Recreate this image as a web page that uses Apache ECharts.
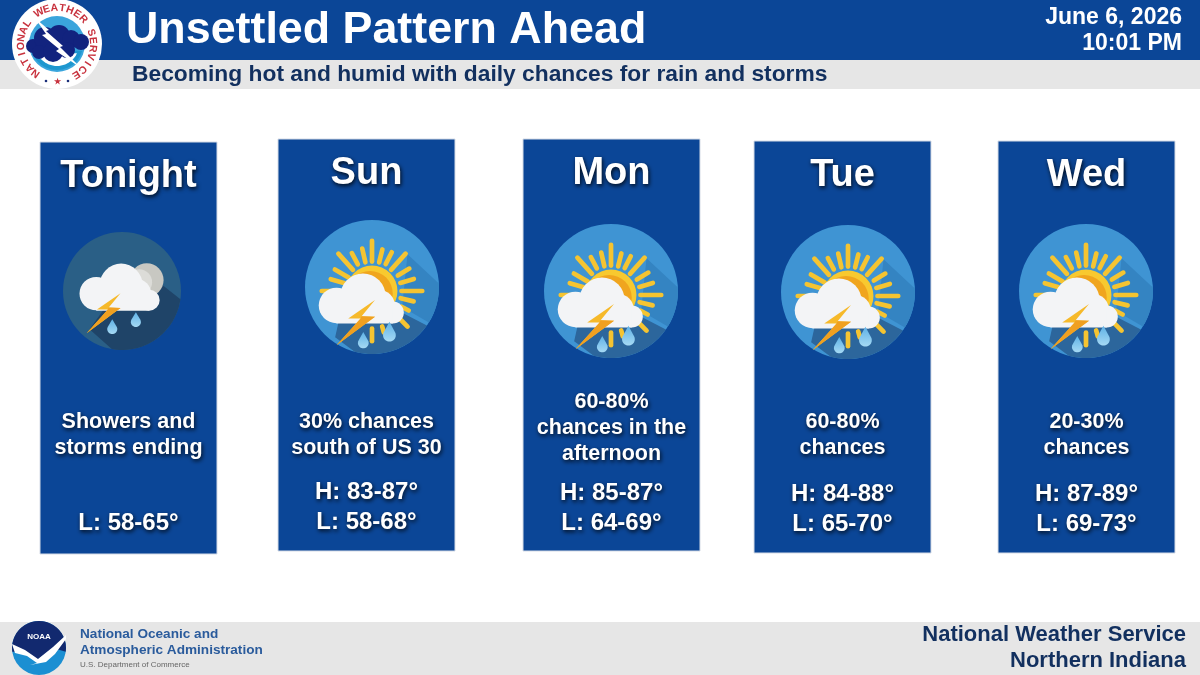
<!DOCTYPE html>
<html>
<head>
<meta charset="utf-8">
<style>html,body{margin:0;padding:0;background:#fff}#main{width:1200px;height:675px}</style>
<script src="https://cdn.jsdelivr.net/npm/echarts@6/dist/echarts.min.js"></script>
</head>
<body>
<div id="main"></div>
<script>
var dayNames = ['Tonight', 'Sun', 'Mon', 'Tue', 'Wed'];
var dayNotes = [
    ['Showers and', 'storms ending'],
    ['30% chances', 'south of US 30'],
    ['60-80%', 'chances in the', 'afternoon'],
    ['60-80%', 'chances'],
    ['20-30%', 'chances']
];
var highs = [null, '83-87°', '85-87°', '84-88°', '87-89°'];
var lows = ['58-65°', '58-68°', '64-69°', '65-70°', '69-73°'];
var iconKinds = ['night', 'day', 'day', 'day', 'day'];

var titleText = 'Unsettled Pattern Ahead';
var subtitleText = 'Becoming hot and humid with daily chances for rain and storms';
var dateLines = ['June 6, 2026', '10:01 PM'];
var agencyLines = ['National Oceanic and', 'Atmospheric Administration'];
var agencySub = 'U.S. Department of Commerce';
var officeLines = ['National Weather Service', 'Northern Indiana'];
var sealText = 'NATIONAL WEATHER SERVICE';

// layout of each panel: left edge, top edge, icon centre, icon radius
var panelX = [40, 278, 523, 754, 998];
var panelY = [142, 139, 139, 141, 141];
var iconX = [122, 372, 611, 848, 1086];
var iconY = [291, 287, 291, 292, 291];
var iconR = [59, 67, 67, 67, 67];
var noteLastY = [448, 448, 454, 448, 448];
var tempY = [523, 522, 523, 524, 524];

var FONT = 'Liberation Sans';
var BLUE = '#0b4697';
var NAVY = '#12305f';
var GREY = '#e6e6e6';

var g = [];

function rect(x, y, w, h, fill, extra) {
    var o = { type: 'rect', shape: { x: x, y: y, width: w, height: h }, style: { fill: fill } };
    return Object.assign(o, extra || {});
}
function label(text, x, y, size, color, align, weight, shadow) {
    var style = {
        text: text, x: x, y: y, fill: color,
        fontFamily: FONT, fontSize: size, fontWeight: weight || 'bold',
        textAlign: align || 'left', textVerticalAlign: 'middle'
    };
    if (shadow) {
        style.textShadowColor = 'rgba(0,0,0,0.85)';
        style.textShadowBlur = 4;
        style.textShadowOffsetX = 1;
        style.textShadowOffsetY = 2;
    }
    return { type: 'text', style: style };
}
function circle(cx, cy, r, fill) {
    return { type: 'circle', shape: { cx: cx, cy: cy, r: r }, style: { fill: fill } };
}
function poly(points, fill) {
    return { type: 'polygon', shape: { points: points }, style: { fill: fill } };
}
function arcPoints(r, fromDeg, toDeg) {
    var pts = [], n = 24;
    for (var i = 0; i <= n; i++) {
        var a = (fromDeg + (toDeg - fromDeg) * i / n) * Math.PI / 180;
        pts.push([r * Math.cos(a), r * Math.sin(a)]);
    }
    return pts;
}

// icons are drawn in a 200-radius box and scaled down
var sunRays = [
    [0, 88, 150], [14, 88, 128], [27, 90, 130], [42, 85, 150], [59, 90, 130], [74, 88, 130],
    [90, 88, 150], [104, 88, 128], [118, 100, 124], [135, 120, 150], [164, 110, 128], [180, 112, 150],
    [270, 115, 150], [286, 85, 128], [300, 80, 128], [318, 85, 150], [332, 90, 128], [347, 88, 130]
];
var dropFill = {
    type: 'linear', x: 0, y: 0, x2: 0, y2: 1,
    colorStops: [{ offset: 0, color: '#5fb2e6' }, { offset: 1, color: '#a5d9f4' }]
};
function dropShape(x, y, r, top) {
    var pts = [[x, top]].concat(arcPoints(r, -25, 205).map(function (p) { return [p[0] + x, p[1] + y]; }));
    return poly(pts, dropFill);
}
function cloudShapes(dx, dy, k) {
    var c = '#f3f4f6';
    return [
        circle(dx + k * -106, dy + k * 55, k * 53, c),
        circle(dx + k * -27, dy + k * 28, k * 68, c),
        circle(dx + k * 22, dy + k * 55, k * 46, c),
        circle(dx + k * 62, dy + k * 76, k * 33, c),
        rect(dx + k * -106, dy + k * 55, k * 168, k * 54, c)
    ];
}
function boltShapes(dx, dy) {
    function sh(p) { return p.map(function (q) { return [q[0] + dx, q[1] + dy]; }); }
    return [
        poly(sh([[9, 39], [-71, 94], [-34, 94], [-106, 174], [9, 89], [-31, 87]]), '#f6b92a'),
        poly(sh([[-34, 94], [-106, 174], [9, 89], [-31, 87]]), '#f0a020')
    ];
}
function dayIcon() {
    var kids = [circle(0, 0, 200, '#3f94d3')];
    kids.push(poly([[106, -98]].concat(arcPoints(200, -3, 32)).concat([[90, 60]]), '#3484c2'));
    kids.push(poly([[96, 80]].concat(arcPoints(200, 35, 105)).concat([[-110, 150], [-100, 105]]), '#2c669c'));
    kids.push(circle(0, 12, 76, '#f8c92f'));
    kids.push(circle(-6, 20, 68, '#f0a51e'));
    sunRays.forEach(function (r) {
        var a = r[0] * Math.PI / 180;
        kids.push({
            type: 'line',
            shape: {
                x1: r[1] * Math.sin(a), y1: 12 - r[1] * Math.cos(a),
                x2: r[2] * Math.sin(a), y2: 12 - r[2] * Math.cos(a)
            },
            style: { stroke: '#f5c431', lineWidth: 14, lineCap: 'round' }
        });
    });
    kids = kids.concat(cloudShapes(0, 0, 1));
    kids = kids.concat(boltShapes(0, 0));
    kids.push(dropShape(-26, 167, 16, 134));
    kids.push(dropShape(52, 144, 19, 104));
    return kids;
}
function nightIcon() {
    var kids = [circle(0, 0, 200, '#2a5f86')];
    kids.push(poly([[125, -30]].concat(arcPoints(200, 8, 100)).concat([[-110, 130], [-60, 60]]), '#1f4468'));
    kids.push(circle(84, -37, 57, '#c8c8c2'));
    kids.push(circle(58, -30, 44, '#dcdcd8'));
    kids = kids.concat(cloudShapes(26, -50, 1.07));
    kids = kids.concat(boltShapes(-14, -31));
    kids.push(dropShape(-33, 129, 17, 96));
    kids.push(dropShape(47, 105, 17, 72));
    return kids;
}

// background bands
g.push(rect(0, 0, 1200, 60, BLUE));
g.push(rect(0, 60, 1200, 29, GREY));
g.push(rect(0, 622, 1200, 53, GREY));

// header text
g.push(label(titleText, 126, 31, 44.8, '#fff'));
g.push(label(subtitleText, 132, 75, 22.8, NAVY));
g.push(label(dateLines[0], 1182, 18, 23, '#fff', 'right'));
g.push(label(dateLines[1], 1182, 44, 23, '#fff', 'right'));

// panels
dayNames.forEach(function (name, i) {
    var x = panelX[i], y = panelY[i], cx = x + 88.5;
    g.push(rect(x, y, 177, 412, BLUE, { style: { fill: BLUE, stroke: '#d5dbe6', lineWidth: 1 } }));
    g.push(label(name, cx, y + 35, 38, '#fff', 'center', 'bold', true));
    var builder = iconKinds[i] === 'night' ? nightIcon : dayIcon;
    g.push({
        type: 'group', x: iconX[i], y: iconY[i], scaleX: iconR[i] / 200, scaleY: iconR[i] / 200,
        children: builder()
    });
    var notes = dayNotes[i];
    notes.forEach(function (line, k) {
        var ly = noteLastY[i] - (notes.length - 1 - k) * 26;
        g.push(label(line, cx, ly, 21.5, '#fff', 'center', 'bold', true));
    });
    if (highs[i]) {
        g.push(label('H: ' + highs[i], cx, tempY[i] - 30, 24, '#fff', 'center', 'bold', true));
    }
    g.push(label('L: ' + lows[i], cx, tempY[i], 24, '#fff', 'center', 'bold', true));
});

// NWS seal
var sealKids = [circle(0, 0, 45, '#fff'), circle(0, 0, 28, '#3aa5dc')];
sealKids.push(poly(arcPoints(26, 15, 165), '#1e97cf'));
sealKids.push(poly(arcPoints(22, 25, 155), '#fff'));
[[-24, 2, 7], [-12, -6, 11], [2, -8, 11], [14, -5, 9], [24, -2, 8], [-18, 8, 7], [-4, 8, 10], [10, 6, 8]].forEach(function (c) {
    sealKids.push(circle(c[0], c[1], c[2], '#12237e'));
});
sealKids.push(poly([[-22, -26], [-8, -14], [-11, -13], [6, 2], [3, 3], [24, 24], [-1, 7], [2, 5], [-15, -9], [-11, -10]], '#fff'));
sealText.split('').forEach(function (ch, k) {
    var deg = 216 + k * (292 / (sealText.length - 1));
    var a = deg * Math.PI / 180;
    sealKids.push({
        type: 'text', x: 36 * Math.sin(a), y: -36 * Math.cos(a), rotation: -a,
        style: { text: ch, fill: '#c8323e', fontFamily: FONT, fontSize: 10.5, fontWeight: 'bold', textAlign: 'center', textVerticalAlign: 'middle' }
    });
});
sealKids.push(label('★', 0, 38, 8, '#c8323e', 'center'));
sealKids.push(circle(-11, 37, 1.3, '#1b2f7a'));
sealKids.push(circle(11, 37, 1.3, '#1b2f7a'));
g.push({ type: 'group', x: 57, y: 44, children: sealKids });

// NOAA logo
var noaaKids = [circle(0, 0, 27, '#1b8fd2')];
noaaKids.push(poly(arcPoints(27, 172, 368).concat([[14, 0], [-2, 12], [-14, 4]]), '#12296f'));
noaaKids.push(poly([[-27, -4], [-14, 2], [-1, 11], [14, -1], [27, -13], [27, -9], [16, 6], [7, 14], [-9, 17], [-2, 15], [-12, 8], [-24, 5]], '#fff'));
noaaKids.push(label('NOAA', 0, -11, 8, '#fff', 'center'));
g.push({ type: 'group', x: 39, y: 648, children: noaaKids });

// footer text
g.push(label(agencyLines[0], 80, 634, 13.6, '#2a5b9c'));
g.push(label(agencyLines[1], 80, 650, 13.6, '#2a5b9c'));
g.push(label(agencySub, 80, 665, 8, '#666', 'left', 'normal'));
g.push(label(officeLines[0], 1186, 635, 22, NAVY, 'right'));
g.push(label(officeLines[1], 1186, 661, 22, NAVY, 'right'));

var myChart = echarts.init(document.getElementById('main'), null, { renderer: 'canvas' });
myChart.setOption({ animation: false, backgroundColor: '#fff', graphic: { elements: g } });
</script>
</body>
</html>
